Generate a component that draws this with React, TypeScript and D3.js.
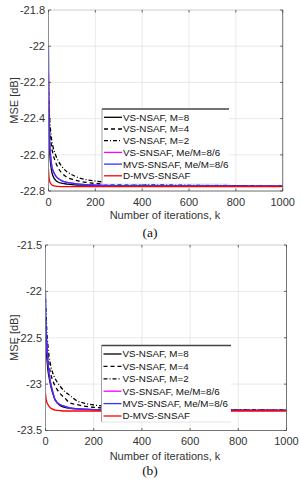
import * as d3 from "d3";

// iteration index shared by all series
const K = [0, 2, 5, 10, 15, 20, 30, 40, 60, 80, 100, 130, 160, 200, 250, 300, 400, 500, 600, 700, 800, 900, 1000];

const X_TICKS = [0, 200, 400, 600, 800, 1000];
const Y_TICKS_A = [-21.8, -22, -22.2, -22.4, -22.6, -22.8];
const Y_TICKS_B = [-21.5, -22, -22.5, -23, -23.5];

const LABELS = [
  "VS-NSAF, M=8",
  "VS-NSAF, M=4",
  "VS-NSAF, M=2",
  "VS-SNSAF, Me/M=8/6",
  "MVS-SNSAF, Me/M=8/6",
  "D-MVS-SNSAF",
];

// (a)
const A_M8 = [-22.3, -22.45, -22.58, -22.66, -22.7, -22.72, -22.74, -22.75, -22.758, -22.762, -22.765, -22.767, -22.768, -22.77, -22.771, -22.772, -22.772, -22.773, -22.773, -22.773, -22.773, -22.774, -22.774];
const A_M4 = [-22.3, -22.38, -22.45, -22.52, -22.57, -22.6, -22.64, -22.67, -22.705, -22.725, -22.735, -22.745, -22.752, -22.758, -22.762, -22.765, -22.768, -22.77, -22.771, -22.772, -22.772, -22.773, -22.773];
const A_M2 = [-22.2, -22.3, -22.4, -22.48, -22.53, -22.56, -22.6, -22.63, -22.67, -22.695, -22.71, -22.727, -22.737, -22.745, -22.752, -22.757, -22.762, -22.765, -22.767, -22.769, -22.77, -22.771, -22.772];
const A_VS = [-22.15, -22.36, -22.52, -22.62, -22.67, -22.69, -22.715, -22.73, -22.745, -22.752, -22.757, -22.762, -22.765, -22.767, -22.769, -22.77, -22.771, -22.772, -22.772, -22.772, -22.773, -22.773, -22.773];
const A_MVS = [-22.0, -22.35, -22.52, -22.62, -22.67, -22.69, -22.715, -22.73, -22.745, -22.752, -22.757, -22.762, -22.765, -22.767, -22.769, -22.77, -22.771, -22.772, -22.772, -22.772, -22.773, -22.773, -22.773];
const A_D = [-22.68, -22.72, -22.745, -22.76, -22.767, -22.77, -22.773, -22.775, -22.776, -22.776, -22.776, -22.776, -22.776, -22.776, -22.776, -22.776, -22.776, -22.776, -22.776, -22.776, -22.776, -22.776, -22.776];

// (b)
const B_M8 = [-22.5, -22.6, -22.7, -22.85, -22.93, -23.0, -23.1, -23.17, -23.23, -23.25, -23.26, -23.267, -23.272, -23.275, -23.278, -23.28, -23.28, -23.281, -23.281, -23.282, -23.282, -23.282, -23.283];
const B_M4 = [-22.3, -22.42, -22.55, -22.7, -22.8, -22.87, -22.96, -23.02, -23.1, -23.15, -23.2, -23.22, -23.237, -23.25, -23.26, -23.265, -23.27, -23.275, -23.278, -23.279, -23.28, -23.281, -23.281];
const B_M2 = [-22.08, -22.2, -22.4, -22.58, -22.7, -22.78, -22.88, -22.94, -23.02, -23.08, -23.12, -23.18, -23.205, -23.225, -23.24, -23.25, -23.265, -23.27, -23.275, -23.277, -23.278, -23.279, -23.28];
const B_VS = [-22.35, -22.42, -22.58, -22.76, -22.88, -22.97, -23.08, -23.17, -23.22, -23.24, -23.255, -23.265, -23.27, -23.275, -23.278, -23.28, -23.281, -23.281, -23.282, -23.282, -23.282, -23.282, -23.282];
const B_MVS = [-22.0, -22.3, -22.55, -22.75, -22.88, -22.97, -23.08, -23.17, -23.22, -23.24, -23.255, -23.265, -23.27, -23.275, -23.278, -23.28, -23.281, -23.281, -23.282, -23.282, -23.282, -23.282, -23.282];
const B_D = [-23.1, -23.15, -23.19, -23.22, -23.24, -23.255, -23.27, -23.28, -23.285, -23.29, -23.29, -23.29, -23.29, -23.29, -23.29, -23.29, -23.29, -23.29, -23.29, -23.29, -23.29, -23.29, -23.29];

const STYLES = [
  { color: "#000000", dash: "" },
  { color: "#000000", dash: "4,3" },
  { color: "#000000", dash: "4,2,1,2" },
  { color: "#ff00ff", dash: "" },
  { color: "#3333ff", dash: "" },
  { color: "#ff0000", dash: "" },
];

const FONT = "'Liberation Sans', Arial, sans-serif";

interface PanelProps {
  id: string;
  top: number;
  bottom: number;
  left: number;
  right: number;
  yDomain: [number, number];
  yTicks: number[];
  series: number[][];
  legend: { x: number; y: number; w: number; h: number; row0: number; step: number };
  caption: string;
  xLabelY: number;
  titleY: number;
  captionY: number;
}

function Panel(p: PanelProps) {
  const x = d3.scaleLinear().domain([0, 1000]).range([p.left, p.right]);
  const y = d3.scaleLinear().domain(p.yDomain).range([p.bottom, p.top]);
  const line = d3
    .line<number>()
    .x((_, i) => x(K[i]))
    .y((d) => y(d))
    .curve(d3.curveMonotoneX);
  const tick = 2.5;
  const lg = p.legend;

  return (
    <g>
      <defs>
        <clipPath id={`clip-${p.id}`}>
          <rect x={p.left} y={p.top} width={p.right - p.left} height={p.bottom - p.top} />
        </clipPath>
      </defs>
      <rect x={p.left} y={p.top} width={p.right - p.left} height={p.bottom - p.top} fill="#fff" />
      {X_TICKS.map((t) => (
        <line key={`gx${t}`} x1={x(t)} x2={x(t)} y1={p.top} y2={p.bottom} stroke="#e4e4e4" strokeWidth={0.8} />
      ))}
      {p.yTicks.map((t) => (
        <line key={`gy${t}`} x1={p.left} x2={p.right} y1={y(t)} y2={y(t)} stroke="#e4e4e4" strokeWidth={0.8} />
      ))}
      <g clipPath={`url(#clip-${p.id})`}>
        {p.series.map((s, i) => (
          <path
            key={i}
            d={line(s) ?? ""}
            fill="none"
            stroke={STYLES[i].color}
            strokeWidth={1.3}
            strokeDasharray={STYLES[i].dash}
          />
        ))}
      </g>
      {/* axes box */}
      <line x1={p.left} x2={p.right} y1={p.top} y2={p.top} stroke="#d0d0d0" strokeWidth={0.8} />
      <line x1={p.left} x2={p.right} y1={p.bottom} y2={p.bottom} stroke="#555" strokeWidth={0.8} />
      <line x1={p.left} x2={p.left} y1={p.top} y2={p.bottom} stroke="#777" strokeWidth={0.8} />
      <line x1={p.right} x2={p.right} y1={p.top} y2={p.bottom} stroke="#555" strokeWidth={0.8} />
      {X_TICKS.map((t) => (
        <g key={`tx${t}`}>
          <line x1={x(t)} x2={x(t)} y1={p.bottom} y2={p.bottom - tick} stroke="#444" strokeWidth={0.8} />
          <line x1={x(t)} x2={x(t)} y1={p.top} y2={p.top + tick} stroke="#444" strokeWidth={0.8} />
          <text x={x(t)} y={p.xLabelY} textAnchor="middle" fontSize={11} fill="#333" fontFamily={FONT}>
            {t}
          </text>
        </g>
      ))}
      {p.yTicks.map((t) => (
        <g key={`ty${t}`}>
          <line x1={p.left} x2={p.left + tick} y1={y(t)} y2={y(t)} stroke="#444" strokeWidth={0.8} />
          <line x1={p.right} x2={p.right - tick} y1={y(t)} y2={y(t)} stroke="#444" strokeWidth={0.8} />
          <text x={p.left - 3.5} y={y(t)} dy="0.35em" textAnchor="end" fontSize={11} fill="#333" fontFamily={FONT}>
            {String(t)}
          </text>
        </g>
      ))}
      <text
        transform={`translate(14,${(p.top + p.bottom) / 2}) rotate(-90)`}
        textAnchor="middle"
        dy="0.35em"
        fontSize={11}
        fill="#333"
        fontFamily={FONT}
      >
        MSE [dB]
      </text>
      <text x={165} y={p.titleY} textAnchor="middle" fontSize={11} fill="#333" fontFamily={FONT}>
        Number of iterations, k
      </text>
      <text x={150} y={p.captionY} textAnchor="middle" fontSize={13.5} fill="#111" fontFamily="'Liberation Serif', 'DejaVu Serif', serif">
        {p.caption}
      </text>
      {/* legend */}
      <rect x={lg.x} y={lg.y} width={lg.w} height={lg.h} fill="#fff" />
      <line x1={lg.x} x2={lg.x + lg.w} y1={lg.y} y2={lg.y} stroke="#444" strokeWidth={1.3} />
      <line x1={lg.x} x2={lg.x} y1={lg.y} y2={lg.y + lg.h} stroke="#888" strokeWidth={0.8} />
      <line x1={lg.x} x2={lg.x + lg.w} y1={lg.y + lg.h} y2={lg.y + lg.h} stroke="#ddd" strokeWidth={0.8} />
      {LABELS.map((l, i) => {
        const ry = lg.row0 + i * lg.step;
        return (
          <g key={l}>
            <line
              x1={lg.x + 2}
              x2={lg.x + 20}
              y1={ry}
              y2={ry}
              stroke={STYLES[i].color}
              strokeWidth={1.3}
              strokeDasharray={STYLES[i].dash}
            />
            <text x={lg.x + 21} y={ry} dy="0.35em" fontSize={9.8} fill="#111" fontFamily={FONT}>
              {l}
            </text>
          </g>
        );
      })}
    </g>
  );
}

export default function App() {
  return (
    <svg
      width={301}
      height={480}
      style={{ position: "absolute", left: 0, top: 0, background: "#fff" }}
    >
      <rect width={301} height={480} fill="#fff" />
      <Panel
        id="a"
        top={10}
        bottom={191}
        left={48.5}
        right={282.7}
        yDomain={[-22.8, -21.8]}
        yTicks={Y_TICKS_A}
        series={[A_M8, A_M4, A_M2, A_VS, A_MVS, A_D]}
        legend={{ x: 102, y: 109, w: 127, h: 75, row0: 117.3, step: 11.7 }}
        caption="(a)"
        xLabelY={205.5}
        titleY={219}
        captionY={236.5}
      />
      <Panel
        id="b"
        top={245}
        bottom={430.5}
        left={45.5}
        right={286.5}
        yDomain={[-23.5, -21.5]}
        yTicks={Y_TICKS_B}
        series={[B_M8, B_M4, B_M2, B_VS, B_MVS, B_D]}
        legend={{ x: 101.5, y: 345.5, w: 129.5, h: 76.5, row0: 354, step: 12.4 }}
        caption="(b)"
        xLabelY={444.5}
        titleY={460}
        captionY={475}
      />
    </svg>
  );
}
